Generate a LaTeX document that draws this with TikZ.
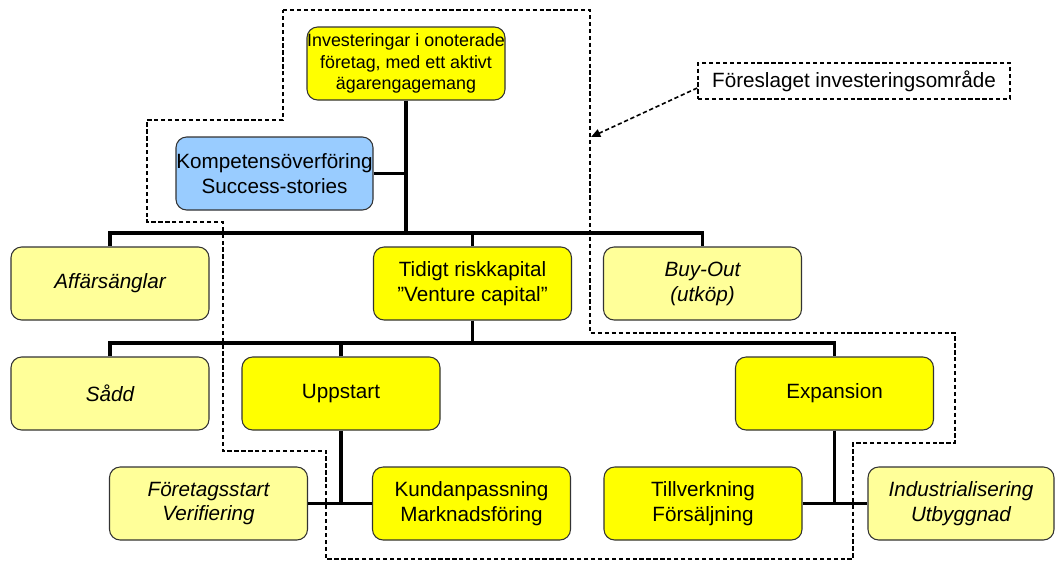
\documentclass[tikz,border=0pt]{standalone}
\usepackage{fontspec}
\setmainfont{Liberation Sans}
\usetikzlibrary{arrows.meta,calc}
\definecolor{mainyel}{HTML}{FFFF00}
\definecolor{lightyel}{HTML}{FFFF99}
\definecolor{lightblue}{HTML}{99CCFF}
\definecolor{boxline}{HTML}{333333}
\begin{document}
\begin{tikzpicture}[x=0.75pt,y=-0.75pt,
  box/.style={draw=boxline, line width=0.8pt, rounded corners=8pt,
    minimum width=148.5pt, minimum height=54.75pt, inner sep=0pt,
    align=center, font=\fontsize{15.5}{18.7}\selectfont},
  mainbox/.style={box, fill=mainyel},
  sidebox/.style={box, fill=lightyel, font=\fontsize{15.5}{18.7}\selectfont\itshape},
  bluebox/.style={box, fill=lightblue},
  conn/.style={line width=2.8pt},
  area/.style={line width=1.2pt, dash pattern=on 3.2pt off 2pt},
  labelbox/.style={draw, area, fill=white, minimum width=234pt, minimum height=27pt,
    inner sep=0pt, font=\fontsize{15.5}{18.7}\selectfont}]
\fill[white] (0,0) rectangle (1056,561);
\useasboundingbox (0,0) rectangle (1056,561);

% nodes
\node[mainbox, font=\fontsize{13.4}{16.3}\selectfont] (top) at (406,63.5)
  {Investeringar i onoterade\\företag, med ett aktivt\\ägarengagemang};
\node[bluebox, minimum width=147.75pt] (comp) at (274.5,173.5) {Kompetensöverföring\\Success-stories};
\node[sidebox] (aff) at (110,283.5) {Affärsänglar};
\node[mainbox] (tidigt) at (472.5,283.5) {Tidigt riskkapital\\”Venture capital”};
\node[sidebox] (buyout) at (702.5,283.5) {Buy-Out\\(utköp)};
\node[sidebox] (sadd) at (110,393.5) {Sådd};
\node[mainbox] (upp) at (341,393.5) {Uppstart};
\node[mainbox] (exp) at (834.5,393.5) {Expansion};
\node[sidebox] (fore) at (208.5,503.5) {Företagsstart\\Verifiering};
\node[mainbox] (kund) at (471.5,503.5) {Kundanpassning\\Marknadsföring};
\node[mainbox] (till) at (703,503.5) {Tillverkning\\Försäljning};
\node[sidebox, minimum width=139.5pt] (ind) at (961,503.5) {Industrialisering\\Utbyggnad};
\node[labelbox] (label) at (854,81) {Föreslaget investeringsområde};

% bus coordinates
\coordinate (bus1) at (0,233);
\coordinate (bus2) at (0,343);

% connectors
\draw[conn] (top.south) -- (top.south |- bus1);
\draw[conn] (comp.east) -- (comp.east -| top.south);
\draw[conn] (aff.north) -- (aff.north |- bus1) -- (buyout.north |- bus1) -- (buyout.north);
\draw[conn] (tidigt.north) -- (tidigt.north |- bus1);
\draw[conn] (tidigt.south) -- (tidigt.south |- bus2);
\draw[conn] (sadd.north) -- (sadd.north |- bus2) -- (exp.north |- bus2) -- (exp.north);
\draw[conn] (upp.north) -- (upp.north |- bus2);
\draw[conn] (fore.east) -- (kund.west);
\draw[conn] (upp.south) -- (upp.south |- fore.east);
\draw[conn] (till.east) -- (ind.west);
\draw[conn] (exp.south) -- (exp.south |- till.east);

% proposed area outline
\draw[area] (283,10) -- (590,10) -- (590,333) -- (955,333) -- (955,443) -- (853,443)
  -- (853,559) -- (326,559) -- (326,451) -- (223,451) -- (223,222) -- (147,222)
  -- (147,120) -- (283,120) -- cycle;

% label arrow
\coordinate (tip) at (591,137);
\draw[area, -{Triangle[length=7pt,width=6pt]}] ($(label.west)+(0,7)$) -- (tip);
\end{tikzpicture}
\end{document}
